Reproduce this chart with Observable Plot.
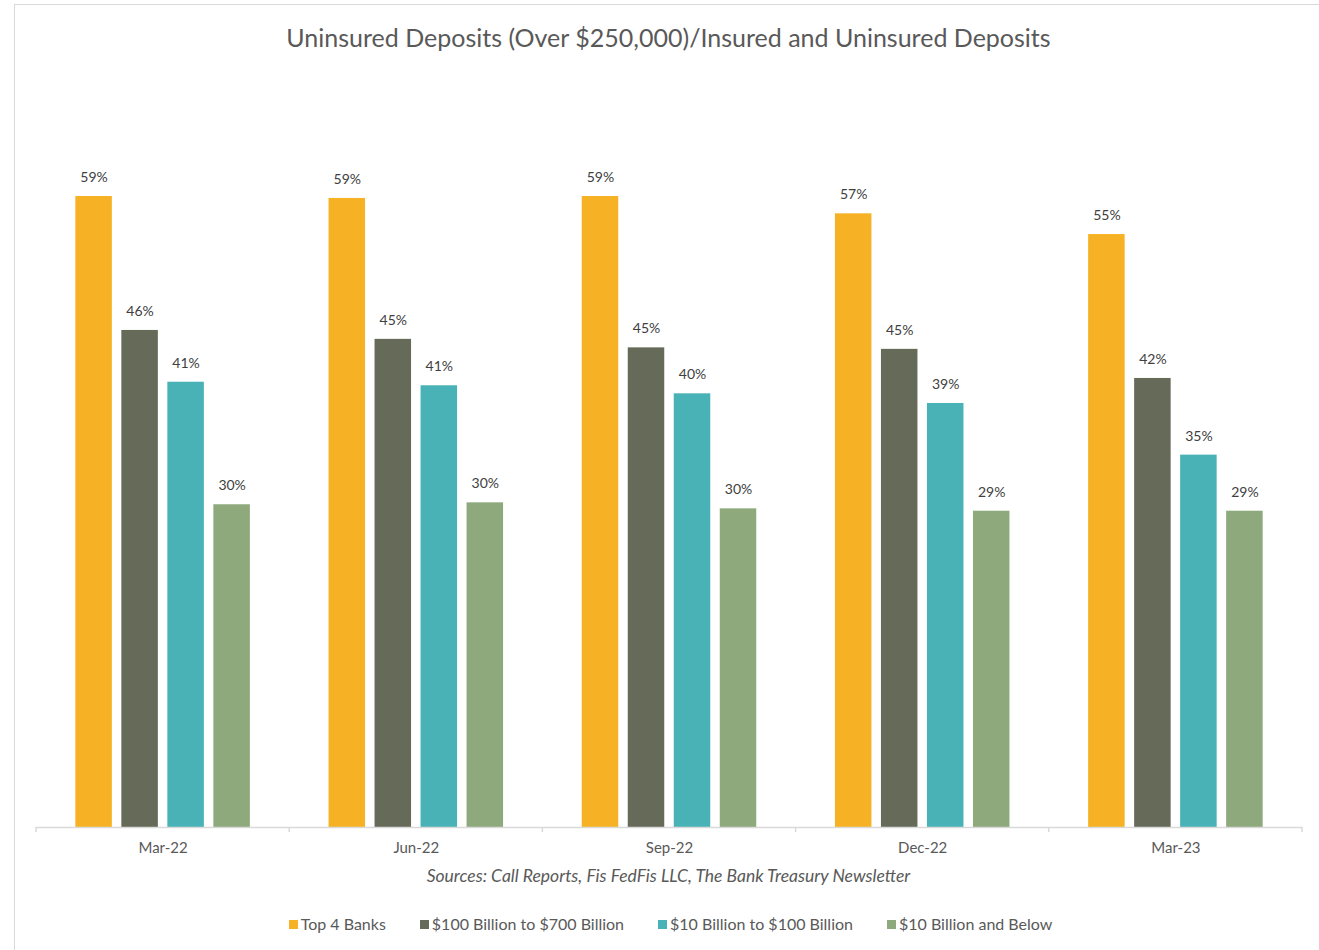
<!DOCTYPE html>
<html>
<head>
<meta charset="utf-8">
<script src="https://cdn.jsdelivr.net/npm/d3@7"></script>
<script src="https://cdn.jsdelivr.net/npm/@observablehq/plot@0.6"></script>
<style>
  html, body { margin: 0; padding: 0; background: #fff; overflow: hidden; }
  body { width: 1319px; height: 950px; position: relative; font-family: Lato, "Open Sans", sans-serif; }
  #frame { position: absolute; left: 14px; top: 4px; width: 3000px; height: 3000px; border: 1.5px solid #d9d9d9; box-sizing: border-box; pointer-events: none; }
  #title { height: 64px; box-sizing: border-box; padding-top: 24px; line-height: 26px; font-size: 25px; color: #595959; text-align: center; padding-left: 18px; }
  #chart svg { display: block; }
  #caption { height: 24px; line-height: 24px; font-size: 17.5px; font-style: italic; color: #595959; text-align: center; padding-left: 18px; }
  #legend { margin-top: 24px; height: 24px; line-height: 24px; font-size: 16px; color: #595959; text-align: center; padding-left: 22px; }
  #legend .item { display: inline-block; margin: 0 17px; }
  #legend .sw { display: inline-block; width: 9px; height: 9px; margin-right: 3px; vertical-align: 1px; }
</style>
</head>
<body>
<div id="frame"></div>
<div id="title">Uninsured Deposits (Over $250,000)/Insured and Uninsured Deposits</div>
<div id="chart"></div>
<div id="caption">Sources: Call Reports, Fis FedFis LLC, The Bank Treasury Newsletter</div>
<div id="legend"></div>
<script>
const periods = ["Mar-22", "Jun-22", "Sep-22", "Dec-22", "Mar-23"];
const seriesNames = ["Top 4 Banks", "$100 Billion to $700 Billion", "$10 Billion to $100 Billion", "$10 Billion and Below"];
const seriesColors = ["#F6B224", "#666B59", "#48B2B6", "#8EA97C"];
const top4 = [58.75, 58.57, 58.75, 57.14, 55.21];
const b100to700 = [46.28, 45.45, 44.66, 44.52, 41.81];
const b10to100 = [41.46, 41.13, 40.38, 39.48, 34.67];
const b10below = [30.05, 30.23, 29.67, 29.45, 29.45];

const seriesValues = [top4, b100to700, b10to100, b10below];
const data = [];
periods.forEach((p, i) => {
  seriesNames.forEach((s, j) => data.push({period: p, series: s, value: seriesValues[j][i]}));
});

const W = 1319, H = 800;
const chart = Plot.plot({
  width: W,
  height: H,
  marginLeft: 36,
  marginRight: 17,
  marginTop: 11.2,
  marginBottom: 37,
  style: {fontFamily: "Lato, 'Open Sans', sans-serif", background: "transparent"},
  fx: {domain: periods, padding: 0, round: false, label: null},
  x: {domain: seriesNames, paddingInner: 0.2065, paddingOuter: 0.855, round: false, axis: null},
  y: {domain: [0, 70], axis: null},
  color: {domain: seriesNames, range: seriesColors},
  marks: [
    Plot.axisFx({anchor: "bottom", tickSize: 0, tickPadding: 15, fontSize: 15, fill: "#595959", label: null}),
    Plot.barY(data, {fx: "period", x: "series", y: "value", fill: "series"}),
    Plot.ruleY([0], {stroke: "#d9d9d9", strokeWidth: 1.5}),
    Plot.text(data, {fx: "period", x: "series", y: "value", text: d => Math.round(d.value) + "%", dy: -19, lineAnchor: "middle", fontSize: 14, fill: "#404040"})
  ]
});
document.getElementById("chart").appendChild(chart);

// boundary tick marks on the category axis, positioned with Plot's fx and y scales
const fx = chart.scale("fx");
const ys = chart.scale("y");
const y0 = ys.apply(0);
const bounds = periods.map(p => fx.apply(p)).concat([fx.apply(periods[periods.length - 1]) + fx.bandwidth]);
const svg = d3.select(chart);
svg.append("g").selectAll("line").data(bounds).join("line")
  .attr("x1", d => d).attr("x2", d => d)
  .attr("y1", y0).attr("y2", y0 + 5)
  .attr("stroke", "#d9d9d9").attr("stroke-width", 1.5);

const legend = document.getElementById("legend");
seriesNames.forEach((s, i) => {
  const it = document.createElement("span");
  it.className = "item";
  it.innerHTML = `<span class="sw" style="background:${seriesColors[i]}"></span>${s}`;
  legend.appendChild(it);
});
</script>
</body>
</html>
